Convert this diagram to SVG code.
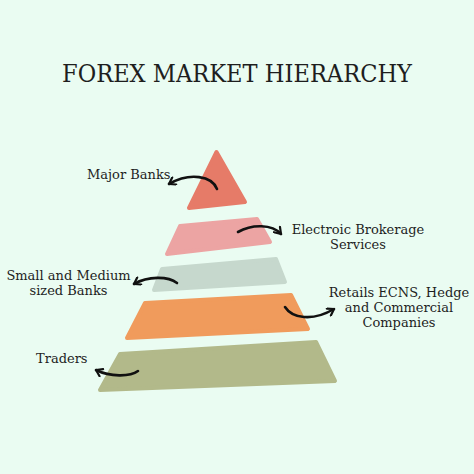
<svg xmlns="http://www.w3.org/2000/svg" width="474" height="474" viewBox="0 0 474 474">
<style>
.lbl{font-family:"DejaVu Serif","Liberation Serif",serif;font-size:13px;fill:#1e1e1e}
.title{font-family:"DejaVu Serif","Liberation Serif",serif;font-size:24px;fill:#1e1e1e}
.layer{stroke-width:4;stroke-linejoin:round}
.conn{fill:none;stroke:#111;stroke-width:2.6;stroke-linecap:round;marker-end:url(#ah)}
</style>
<defs>
<marker id="ah" viewBox="0 0 10 10" refX="8" refY="5" markerWidth="10" markerHeight="10" markerUnits="userSpaceOnUse" orient="auto">
<path d="M2,1 L8,5 L2,9" fill="none" stroke="#111" stroke-width="2.2" stroke-linecap="round" stroke-linejoin="round"/>
</marker>
</defs>
<rect width="474" height="474" fill="#eafcf2"/>
<text class="title" x="237" y="82" text-anchor="middle" textLength="350" lengthAdjust="spacingAndGlyphs">FOREX MARKET HIERARCHY</text>

<g id="major-banks">
<polygon class="layer" points="216.5,152 245,202 189,208" fill="#e67b68" stroke="#e67b68"/>
<text class="lbl" x="87" y="179">Major Banks</text>
</g>
<g id="electronic-brokerage">
<polygon class="layer" points="180,226 257,219 270,242 167,254" fill="#eca4a3" stroke="#eca4a3"/>
<text class="lbl" text-anchor="middle"><tspan x="358" y="234">Electroic Brokerage</tspan><tspan x="358" y="249">Services</tspan></text>
</g>
<g id="small-medium-banks">
<polygon class="layer" points="162,269 276,259 285,282 154,290" fill="#c6d8cd" stroke="#c6d8cd"/>
<text class="lbl" text-anchor="middle"><tspan x="68.5" y="280">Small and Medium</tspan><tspan x="68.5" y="295">sized Banks</tspan></text>
</g>
<g id="retail-ecns">
<polygon class="layer" points="145,303 291,295 308,329 127,338" fill="#f09b5c" stroke="#f09b5c"/>
<text class="lbl" text-anchor="middle"><tspan x="399" y="297">Retails ECNS, Hedge</tspan><tspan x="399" y="312">and Commercial</tspan><tspan x="399" y="327">Companies</tspan></text>
</g>
<g id="traders">
<polygon class="layer" points="120,354 316,342 335,381 100,390" fill="#b2b98a" stroke="#b2b98a"/>
<text class="lbl" x="36" y="363">Traders</text>
</g>

<g id="connectors">
<path class="conn" d="M217,189 C212,176 190,172 169,184"/>
<path class="conn" d="M238,232 C252,224 272,224 281,234"/>
<path class="conn" d="M177,283 C168,276 148,276 134,284"/>
<path class="conn" d="M285,307 C292,318 312,322 334,309"/>
<path class="conn" d="M138,371 C130,377 110,377 96,370"/>
</g>
</svg>
